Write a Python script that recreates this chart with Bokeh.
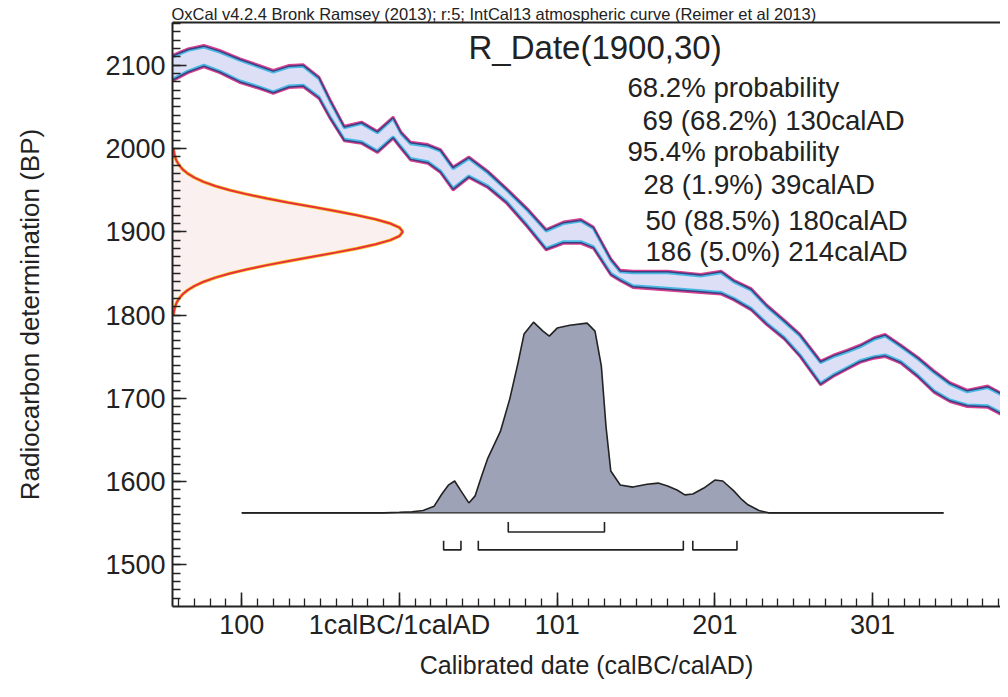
from bokeh.plotting import figure
from bokeh.models import FixedTicker, Range1d, Label, LinearAxis
from bokeh.embed import file_html
from bokeh.resources import INLINE

# ---------------- data ----------------
# IntCal13 calibration band (cal year AD, negative = BC) : upper / lower edge in BP
curve_year = [-144, -134, -124, -114, -101, -89, -80, -70, -61, -51, -44, -35, -24, -14, -4,
              1, 7, 18, 26, 34, 44, 56, 68, 81, 93, 104, 115, 123, 134, 140, 148, 170, 191,
              204, 212, 223, 233, 244, 254, 267, 275, 284, 292, 301, 308, 318, 329, 339, 349,
              360, 373, 387]
curve_hi = [2111, 2119, 2123, 2117, 2107, 2099, 2093, 2099, 2100, 2085, 2058, 2026, 2031, 2020, 2037,
            2019, 2007, 2004, 1998, 1977, 1989, 1972, 1951, 1927, 1902, 1911, 1914, 1905, 1867, 1853,
            1852, 1852, 1848, 1852, 1841, 1831, 1811, 1793, 1776, 1744, 1751, 1757, 1763, 1772, 1776,
            1763, 1748, 1732, 1718, 1709, 1714, 1700]
curve_lo = [2082, 2092, 2099, 2092, 2080, 2073, 2067, 2074, 2075, 2061, 2037, 2010, 2007, 1996, 2013,
            2001, 1987, 1983, 1972, 1951, 1966, 1954, 1935, 1907, 1879, 1887, 1887, 1881, 1849, 1842,
            1834, 1831, 1828, 1826, 1819, 1807, 1789, 1772, 1751, 1717, 1727, 1736, 1744, 1749, 1751,
            1743, 1726, 1708, 1697, 1691, 1690, 1676]

# Radiocarbon measurement R_Date(1900,30): relative likelihood by BP
rdate_bp = [1800, 1805, 1810, 1815, 1820, 1825, 1830, 1835, 1840, 1845, 1850, 1855, 1860, 1865,
            1870, 1875, 1880, 1885, 1890, 1895, 1900, 1905, 1910, 1915, 1920, 1925, 1930, 1935,
            1940, 1945, 1950, 1955, 1960, 1965, 1970, 1975, 1980, 1985, 1990, 1995, 2000]
rdate_dens = [0.004, 0.007, 0.011, 0.018, 0.029, 0.044, 0.066, 0.096, 0.135, 0.186, 0.249, 0.325,
              0.411, 0.506, 0.607, 0.707, 0.801, 0.882, 0.946, 0.986, 1.0, 0.986, 0.946, 0.882,
              0.801, 0.707, 0.607, 0.506, 0.411, 0.325, 0.249, 0.186, 0.135, 0.096, 0.066, 0.044,
              0.029, 0.018, 0.011, 0.007, 0.004]

# Calibrated (posterior) probability, relative
post_year = [-100, -10, 0, 8, 15, 22, 27, 31, 35, 39, 44, 48, 52, 56, 64, 70, 75, 79, 85, 91, 95,
             100, 108, 119, 124, 128, 131, 134, 140, 148, 157, 164, 170, 176, 181, 186, 193, 200,
             205, 212, 217, 221, 228, 234, 345]
post_dens = [0, 0, 0.003, 0.006, 0.012, 0.035, 0.10, 0.145, 0.167, 0.115, 0.052, 0.089, 0.19, 0.286,
             0.427, 0.599, 0.78, 0.9375, 1.0, 0.953, 0.927, 0.969, 0.984, 0.995, 0.953, 0.771, 0.45,
             0.219, 0.146, 0.135, 0.15, 0.156, 0.141, 0.12, 0.094, 0.099, 0.130, 0.172, 0.167, 0.115,
             0.07, 0.042, 0.012, 0.0, 0]

range68_from = [69]
range68_to = [130]
range68_pct = [68.2]
range95_from = [28, 50, 186]
range95_to = [39, 180, 214]
range95_pct = [1.9, 88.5, 5.0]

x_ticks = [-100, 0, 100, 200, 300]
x_tick_labels = ["100", "1calBC/1calAD", "101", "201", "301"]
y_ticks = [1500, 1600, 1700, 1800, 1900, 2000, 2100]

header = "OxCal v4.2.4 Bronk Ramsey (2013); r:5; IntCal13 atmospheric curve (Reimer et al 2013)"
title = "R_Date(1900,30)"

# ---------------- figure ----------------
FONT = "Liberation Sans"
INK = "#222222"
X0, X1 = -143.9, 381.1
Y0, Y1 = 1450, 2151.4

p = figure(width=1000, height=681, x_range=Range1d(X0, X1), y_range=Range1d(Y0, Y1),
           output_backend="svg", toolbar_location=None,
           min_border_left=172, min_border_right=0, min_border_top=22, min_border_bottom=72)
p.outline_line_color = None
p.grid.visible = False
p.background_fill_color = "white"

p.title.text = header
p.title.text_font = FONT
p.title.text_font_size = "16.5px"
p.title.text_font_style = "normal"
p.title.text_color = INK
p.title.align = "left"
p.title.offset = -1
p.title.standoff = 0

# calibration band
p.varea(x=curve_year, y1=curve_lo, y2=curve_hi, fill_color="#dcdff6")
hi_out = [v + 1.1 for v in curve_hi]
hi_in = [v - 1.1 for v in curve_hi]
lo_out = [v - 1.1 for v in curve_lo]
lo_in = [v + 1.1 for v in curve_lo]
for outer, inner, mid in ((hi_out, hi_in, curve_hi), (lo_out, lo_in, curve_lo)):
    p.line(curve_year, inner, line_color="#49b8e4", line_width=3.0)
    p.line(curve_year, outer, line_color="#d8408f", line_width=2.4)
    p.line(curve_year, mid, line_color="#3d3f80", line_width=1.5)

# radiocarbon likelihood on the y axis
RW = 146.0
rx = [X0 + d * RW for d in rdate_dens]
p.harea(y=rdate_bp, x1=X0, x2=rx, fill_color="#fbf0f0")
p.line(rx, rdate_bp, line_color="#f5c21e", line_width=3.4)
p.line(rx, rdate_bp, line_color="#e6303e", line_width=2.0)

# posterior distribution
PB, PH = 1562.5, 229.0
py = [PB + d * PH for d in post_dens]
p.varea(x=post_year, y1=PB, y2=py, fill_color="#9ea2b6")
p.line(post_year, py, line_color=INK, line_width=1.6)
p.line([post_year[0], post_year[-1]], [PB, PB], line_color=INK, line_width=1.4)

# range brackets
def brackets(starts, ends, ybar, htick):
    xs = [[a, a, b, b] for a, b in zip(starts, ends)]
    ys = [[ybar + htick, ybar, ybar, ybar + htick] for _ in starts]
    p.multi_line(xs, ys, line_color=INK, line_width=1.6)

brackets(range68_from, range68_to, 1539.5, 12)
brackets(range95_from, range95_to, 1518.0, 11)

# axes
xa = p.xaxis[0]
ya = p.yaxis[0]
xa.ticker = FixedTicker(ticks=x_ticks, minor_ticks=list(range(-140, 390, 10)))
xa.major_label_overrides = dict(zip(x_ticks, x_tick_labels))
ya.ticker = FixedTicker(ticks=y_ticks, minor_ticks=list(range(1460, 2151, 10)))
for ax in (xa, ya):
    ax.axis_line_color = INK
    ax.axis_line_width = 2
    ax.major_tick_line_color = INK
    ax.minor_tick_line_color = INK
    ax.major_tick_line_width = 1.6
    ax.minor_tick_line_width = 1.3
    ax.major_tick_in = 14
    ax.major_tick_out = 0
    ax.minor_tick_in = 8
    ax.minor_tick_out = 0
    ax.major_label_text_font = FONT
    ax.major_label_text_font_size = "27px"
    ax.major_label_text_color = INK
    ax.axis_label_text_font = FONT
    ax.axis_label_text_font_style = "normal"
    ax.axis_label_text_color = INK
xa.axis_label = "Calibrated date (calBC/calAD)"
xa.axis_label_text_font_size = "25px"
xa.major_label_standoff = 3
xa.axis_label_standoff = 8
ya.axis_label = "Radiocarbon determination (BP)"
ya.axis_label_text_font_size = "26px"
ya.major_label_standoff = 7
ya.axis_label_standoff = 57

top = LinearAxis(ticker=FixedTicker(ticks=[]), axis_line_color=INK, axis_line_width=2,
                 major_label_text_font_size="0px", major_tick_line_color=None,
                 minor_tick_line_color=None)
p.add_layout(top, "above")

# texts
p.add_layout(Label(x=43.8, y=2106, y_offset=13, text=title, text_font=FONT, text_font_size="33px",
                   text_color=INK, text_baseline="alphabetic"))

lines = ["%.1f%% probability" % 68.2]
lines += ["%d (%.1f%%) %dcalAD" % (a, c, b) for a, b, c in zip(range68_from, range68_to, range68_pct)]
lines += ["%.1f%% probability" % 95.4]
lines += ["%d (%.1f%%) %dcalAD" % (a, c, b) for a, b, c in zip(range95_from, range95_to, range95_pct)]
text_pos = [(144.6, 2061.8), (154.1, 2021.1), (144.6, 1984.1),
            (154.7, 1944.7), (156.0, 1901.7), (156.0, 1864.6)]
for t, (tx, ty) in zip(lines, text_pos):
    p.add_layout(Label(x=tx, y=ty, y_offset=10, text=t, text_font=FONT, text_font_size="27.6px",
                       text_color=INK, text_baseline="alphabetic"))

open("out.html", "w").write(file_html(p, INLINE))
